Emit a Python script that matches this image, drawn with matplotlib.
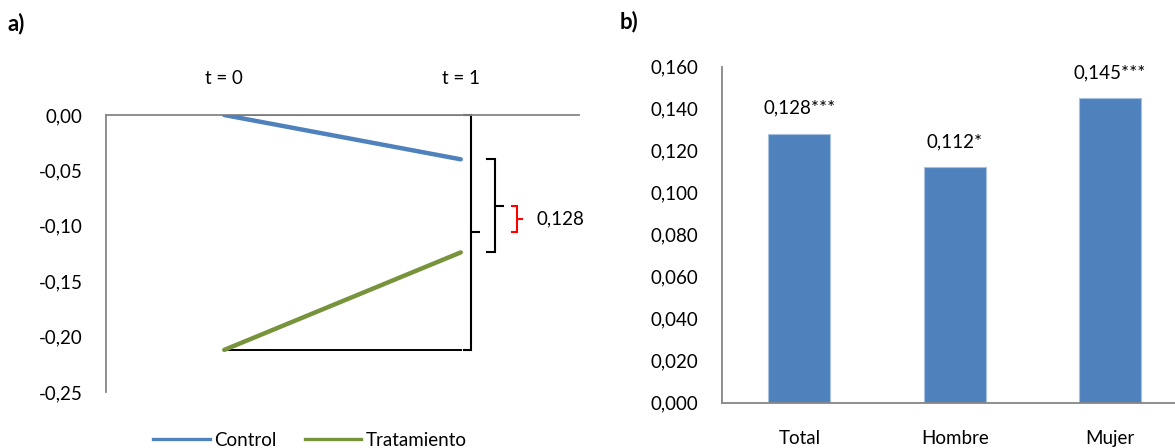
import matplotlib
matplotlib.use("Agg")
import matplotlib.pyplot as plt
from matplotlib.lines import Line2D

# ---- data ----
periods = ["t = 0", "t = 1"]
control = [0.000, -0.040]
tratamiento = [-0.212, -0.124]
did_label = "0,128"
left_yticks = [0.00, -0.05, -0.10, -0.15, -0.20, -0.25]

groups = ["Total", "Hombre", "Mujer"]
effects = [0.128, 0.112, 0.145]
stars = ["***", "*", "***"]
right_yticks = [0.000, 0.020, 0.040, 0.060, 0.080, 0.100, 0.120, 0.140, 0.160]

# ---- style ----
plt.rcParams["font.family"] = ["Lato", "DejaVu Sans"]
FS = 13.5
BLUE = "#4F81BD"
GREEN = "#77933C"
GRAY = "#868686"

W, H = 1175, 448
fig = plt.figure(figsize=(W / 100, H / 100), dpi=100)

def fx(px):
    return px / W

def fy(py):
    return 1 - py / H

# ---------------- panel a ----------------
axa = fig.add_axes([fx(106), fy(392), fx(473), (392 - 115) / H])
x = [0.5, 1.5]
axa.plot(x, control, color=BLUE, lw=3.2, solid_capstyle="round", zorder=3)
axa.plot(x, tratamiento, color=GREEN, lw=3.2, solid_capstyle="round", zorder=3)
# reference horizontal lines
axa.plot([x[0], x[1]], [control[0], control[0]], color="black", lw=1.4, zorder=2)
axa.plot([x[0], x[1]], [tratamiento[0], tratamiento[0]], color="black", lw=1.4, zorder=2)

def brace(ax, xv, y1, y2, hook, tip, color):
    ym = (y1 + y2) / 2
    ax.plot([xv - hook, xv, xv, xv - hook], [y1, y1, y2, y2],
            color=color, lw=1.5, clip_on=False, solid_joinstyle="miter")
    ax.plot([xv, xv + tip], [ym, ym], color=color, lw=1.5, clip_on=False)
    return ym

m1 = brace(axa, 1.543, control[0], tratamiento[0], 0.03, 0.036, "black")
m2 = brace(axa, 1.643, control[1], tratamiento[1], 0.03, 0.036, "black")
m3 = brace(axa, 1.739, m2, m1, 0.022, 0.022, "#FF0000")
axa.text(1.82, m3, did_label, fontsize=FS, va="center", ha="left")

axa.set_xlim(0, 2)
axa.set_ylim(-0.25, 0)
axa.set_yticks(left_yticks)
axa.set_yticklabels([f"{v:.2f}".replace(".", ",") for v in left_yticks], fontsize=FS)
axa.xaxis.tick_top()
axa.set_xticks(x)
axa.set_xticklabels(periods, fontsize=FS)
axa.tick_params(axis="y", length=0, pad=17)
axa.tick_params(axis="x", length=0, pad=20)
for s in ["right", "bottom"]:
    axa.spines[s].set_visible(False)
for s in ["left", "top"]:
    axa.spines[s].set_color(GRAY)
    axa.spines[s].set_linewidth(1.3)

handles = [Line2D([], [], color=BLUE, lw=2.4), Line2D([], [], color=GREEN, lw=2.4)]
fig.legend(handles, ["Control", "Tratamiento"], loc="center", ncol=2,
           bbox_to_anchor=(fx(310), fy(440)), frameon=False, fontsize=FS,
           handlelength=3.0, handletextpad=0.25, columnspacing=1.5, borderpad=0)

fig.text(fx(8), fy(24), "a)", fontsize=16, fontweight="bold", va="center", ha="left")

# ---------------- panel b ----------------
axb = fig.add_axes([fx(721.7), fy(402.7), fx(466), (402.7 - 66.7) / H])
pos = list(range(len(groups)))
bars = axb.bar(pos, effects, width=0.4, color=BLUE, edgecolor="#A7C0DE", linewidth=0.8)
for p, v, s in zip(pos, effects, stars):
    axb.annotate(f"{v:.3f}".replace(".", ",") + s, (p, v), xytext=(0, 18.5),
                 textcoords="offset points", ha="center", va="center", fontsize=FS)
axb.set_xlim(-0.5, 2.5)
axb.set_ylim(0, 0.16)
axb.set_yticks(right_yticks)
axb.set_yticklabels([f"{v:.3f}".replace(".", ",") for v in right_yticks], fontsize=FS)
axb.set_xticks(pos)
axb.set_xticklabels(groups, fontsize=FS)
axb.tick_params(axis="y", length=0, pad=17)
axb.tick_params(axis="x", length=0, pad=20)
for s in ["right", "top"]:
    axb.spines[s].set_visible(False)
for s in ["left", "bottom"]:
    axb.spines[s].set_color(GRAY)
    axb.spines[s].set_linewidth(1.3)

fig.text(fx(620), fy(22), "b)", fontsize=16, fontweight="bold", va="center", ha="left")

fig.savefig("out.png", dpi=100)
